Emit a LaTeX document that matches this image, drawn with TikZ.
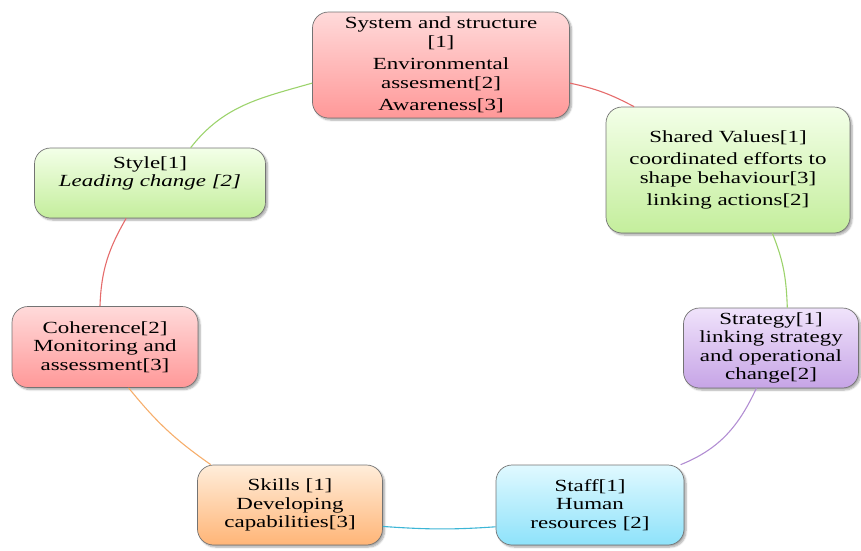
\documentclass[tikz,border=0pt]{standalone}
\usepackage{fontspec}
\setmainfont{Liberation Serif}[FakeStretch=1.35]
\usetikzlibrary{shadows.blur}
\definecolor{pinkT}{HTML}{FFDADA}
\definecolor{pinkB}{HTML}{FF9898}
\definecolor{greenT}{HTML}{F3FFE8}
\definecolor{greenB}{HTML}{C4EE9C}
\definecolor{lavT}{HTML}{F0E3FB}
\definecolor{lavB}{HTML}{C6A4E6}
\definecolor{cyanT}{HTML}{E0F9FF}
\definecolor{cyanB}{HTML}{8EE2FA}
\definecolor{orT}{HTML}{FFEDDA}
\definecolor{orB}{HTML}{FFB577}
\definecolor{lnGreen}{HTML}{9CD36C}
\definecolor{lnRed}{HTML}{E56B6B}
\definecolor{lnPurple}{HTML}{B28ED3}
\definecolor{lnCyan}{HTML}{3DB6D6}
\definecolor{lnOrange}{HTML}{F6AE6C}
\begin{document}
\begin{tikzpicture}[x=1pt,y=1pt,
  box/.style={draw=black!55, line width=0.7pt, rounded corners=16pt, align=center,
    inner sep=2pt, font=\fontsize{17}{18.5}\selectfont,
    blur shadow={shadow xshift=2pt, shadow yshift=-2pt, shadow blur steps=6, shadow opacity=35}},
  pinkbox/.style={box, top color=pinkT, bottom color=pinkB},
  greenbox/.style={box, top color=greenT, bottom color=greenB},
  lavbox/.style={box, top color=lavT, bottom color=lavB},
  cyanbox/.style={box, top color=cyanT, bottom color=cyanB},
  orbox/.style={box, top color=orT, bottom color=orB},
  link/.style={line width=1.1pt}]
\useasboundingbox (0,0) rectangle (861,-550);

\node[pinkbox, minimum width=257, minimum height=106] (top) at (441,-65)
  {System and structure\\ {[1]}\\[4pt] Environmental\\ assesment[2]\\[4pt] Awareness[3]};
\node[greenbox, minimum width=244, minimum height=126] (sv) at (728,-170)
  {Shared Values[1]\\[4pt] coordinated efforts to\\ shape behaviour[3]\\[4pt] linking actions[2]};
\node[lavbox, minimum width=175, minimum height=80] (strat) at (771,-348)
  {Strategy[1]\\ linking strategy\\ and operational\\ change[2]};
\node[cyanbox, minimum width=188, minimum height=80] (staff) at (590,-505)
  {Staff[1]\\ Human\\ resources [2]};
\node[orbox, minimum width=185, minimum height=80] (skills) at (290,-505)
  {Skills [1]\\ Developing\\ capabilities[3]};
\node[pinkbox, minimum width=186, minimum height=81] (coh) at (105,-347)
  {Coherence[2]\\ Monitoring and\\ assessment[3]};
\node[greenbox, minimum width=231, minimum height=70] (style) at (150,-183)
  {Style[1]\\ \textit{Leading change [2]}\\[4pt]\mbox{}};

\draw[link, lnGreen] (style.41) to[out=52, in=196] (top.188);
\draw[link, lnRed] (top.-8) to[out=-12, in=152] (sv.146);
\draw[link, lnGreen] (sv.-55) to[out=-68, in=92] (strat.68);
\draw[link, lnPurple] (strat.-110) to[out=-115, in=22] (staff.24);
\draw[link, lnCyan] (staff.193) to[out=184, in=-4] (skills.-13);
\draw[link, lnOrange] (skills.153) to[out=145, in=-51] (coh.-60);
\draw[link, lnRed] (coh.97) to[out=88, in=-120] (style.-124);
\end{tikzpicture}
\end{document}
